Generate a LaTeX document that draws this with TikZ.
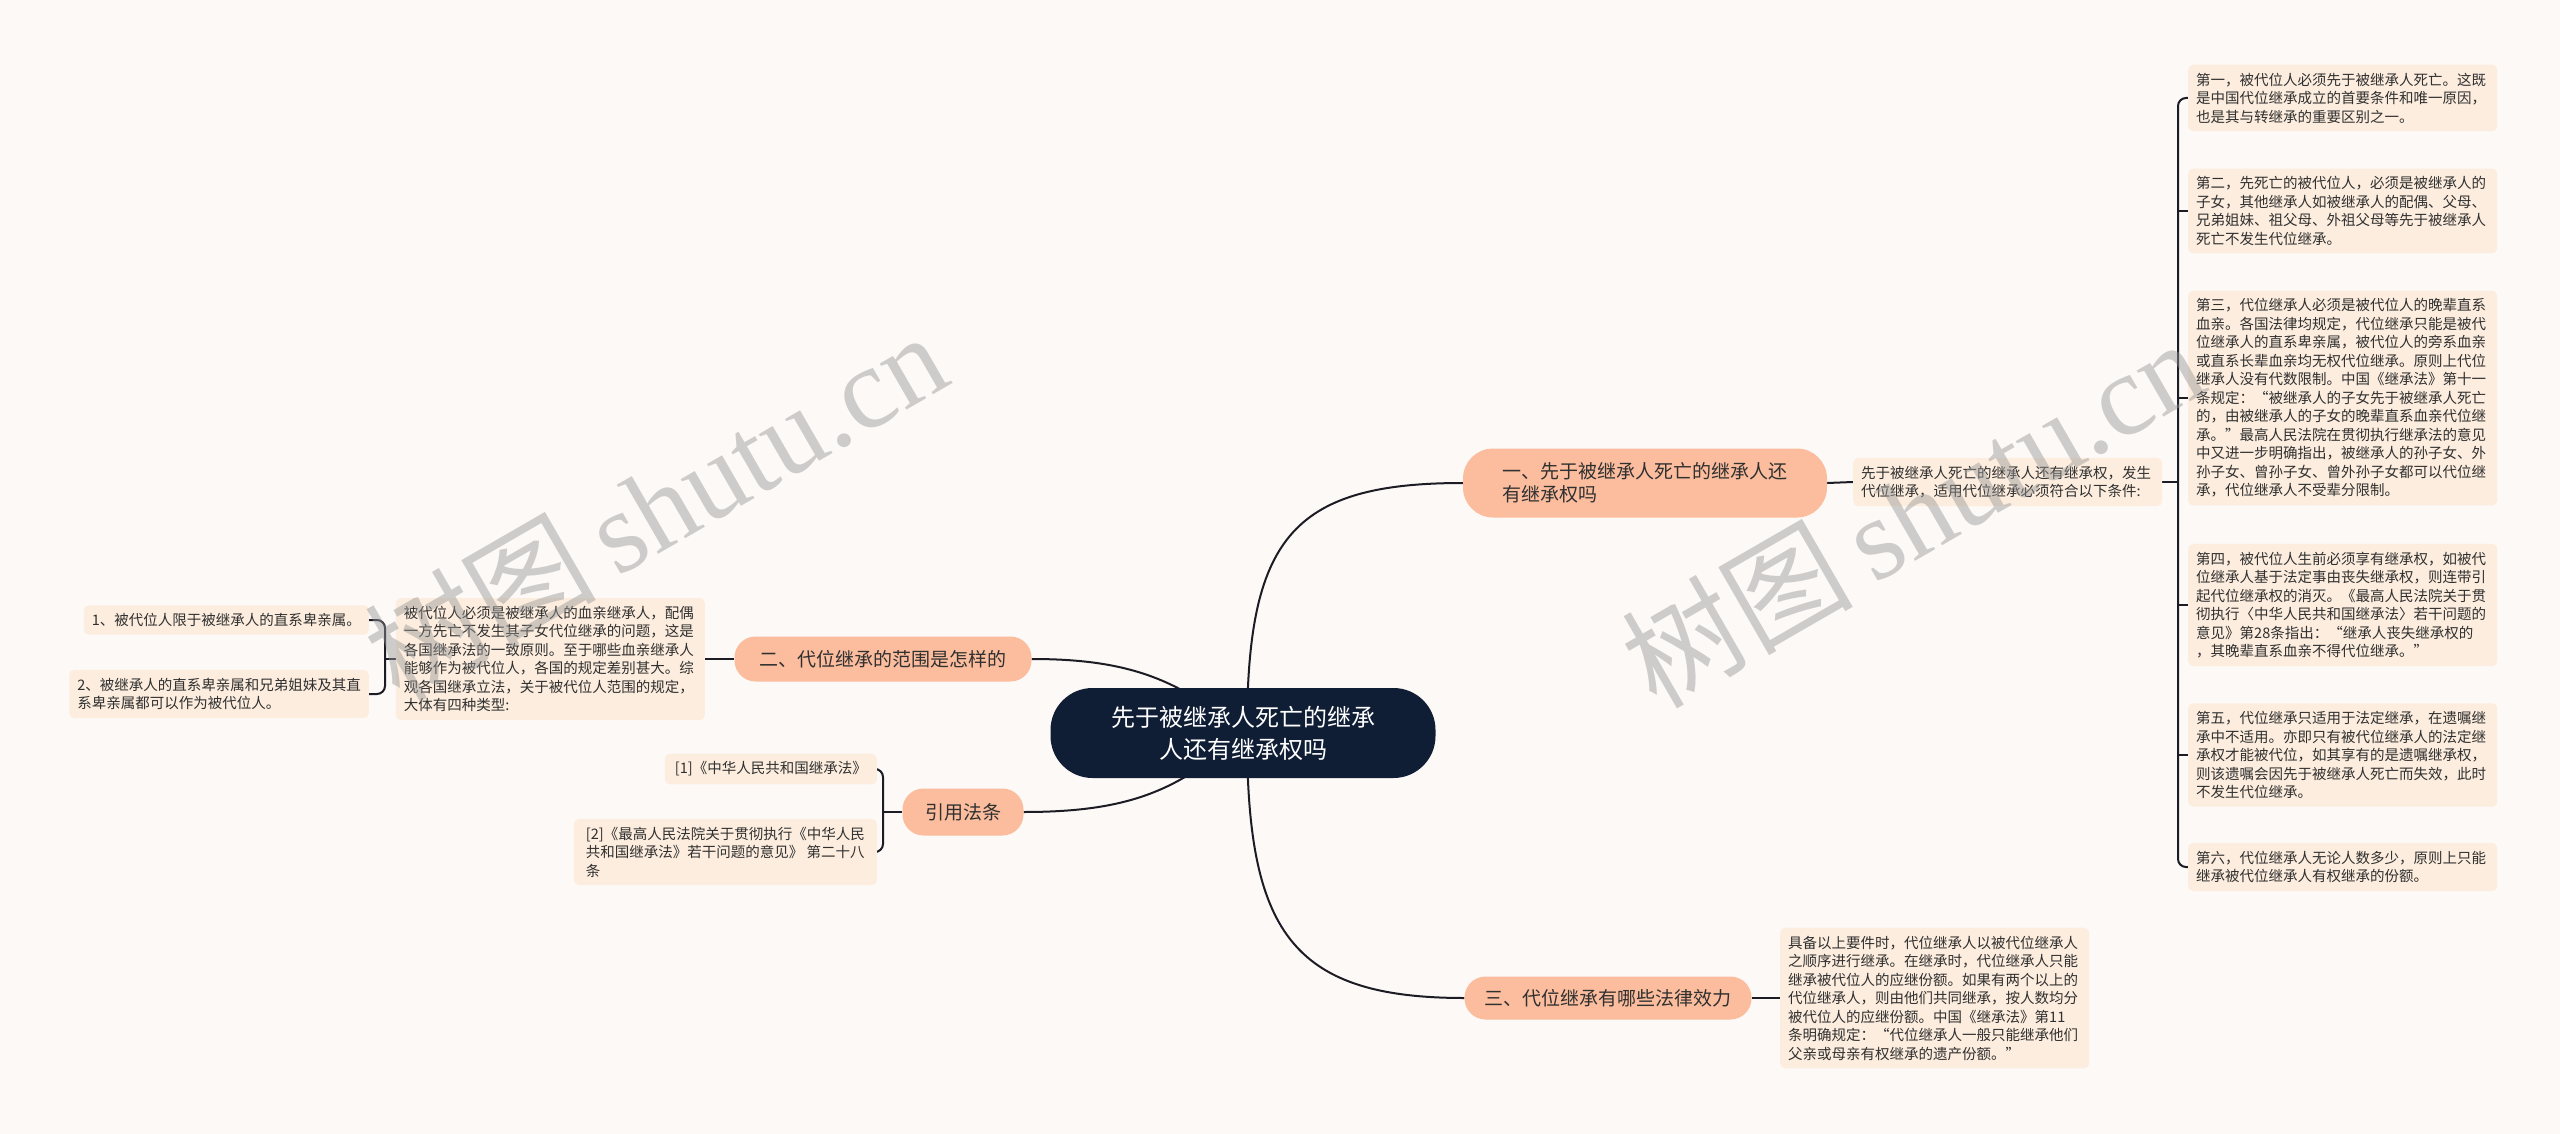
\documentclass[tikz,border=0pt]{standalone}
\usepackage{fontspec}
\setmainfont{Noto Sans CJK SC}
\newfontfamily\wmlatin{Liberation Serif}
\definecolor{bgcol}{RGB}{253,249,247}
\definecolor{leafcol}{RGB}{252,237,222}
\definecolor{brcol}{RGB}{251,189,157}
\definecolor{cencol}{RGB}{15,30,53}
\definecolor{linecol}{RGB}{28,28,36}
\definecolor{txtcol}{RGB}{48,48,48}
\definecolor{wmcol}{RGB}{150,150,150}
\pgfdeclarelayer{back}
\pgfdeclarelayer{edges}
\pgfdeclarelayer{front}
\pgfsetlayers{back,edges,main,front}
\tikzset{
  leafbox/.style={fill=leafcol, rounded corners=5pt, inner xsep=8pt, inner ysep=8pt,
    font=\fontsize{14.5}{18.5}\selectfont, text=txtcol, align=left},
  wideleaf/.style={leafbox, text width=293pt},
  branchbox/.style={fill=brcol, rounded corners=21pt, inner sep=0pt,
    font=\fontsize{19}{23.5}\selectfont, text=txtcol, align=left},
  edge/.style={draw=linecol, line width=2pt},
  wmark/.style={text=wmcol, opacity=0.45, rotate=30, inner sep=0pt}
}
\begin{document}
\begin{tikzpicture}[x=1pt,y=-1pt]
\begin{pgfonlayer}{back}
\fill[bgcol] (0,0) rectangle (2560,1134);
\end{pgfonlayer}
\useasboundingbox (0,0) rectangle (2560,1134);

% centre
\node[fill=cencol, rounded corners=42pt, minimum width=385pt, minimum height=90pt,
  text=white, align=center, font=\fontsize{24}{32}\selectfont] (c) at (1243,733)
  {先于被继承人死亡的继承\\人还有继承权吗};
\coordinate (cs) at (1247,733);

% branches
\node[branchbox, minimum width=364pt, minimum height=69pt, rounded corners=30pt] (b1) at (1645,483)
  {一、先于被继承人死亡的继承人还\\有继承权吗};
\node[branchbox, minimum width=297pt, minimum height=45pt] (b2) at (883,659)
  {二、代位继承的范围是怎样的};
\node[branchbox, minimum width=121pt, minimum height=47pt] (b4) at (963,812)
  {引用法条};
\node[branchbox, minimum width=287pt, minimum height=43pt] (b3) at (1608,998)
  {三、代位继承有哪些法律效力};

% branch 1 leaves
\node[wideleaf, anchor=west] (l1) at (1853,482)
  {先于被继承人死亡的继承人还有继承权，发生\\代位继承，适用代位继承必须符合以下条件:};
\coordinate (rb) at (2178,0);
\node[wideleaf, anchor=west] (r1) at (2188,98)
  {第一，被代位人必须先于被继承人死亡。这既\\是中国代位继承成立的首要条件和唯一原因，\\也是其与转继承的重要区别之一。};
\node[wideleaf, anchor=west] (r2) at (2188,211)
  {第二，先死亡的被代位人，必须是被继承人的\\子女，其他继承人如被继承人的配偶、父母、\\兄弟姐妹、祖父母、外祖父母等先于被继承人\\死亡不发生代位继承。};
\node[wideleaf, anchor=west] (r3) at (2188,398)
  {第三，代位继承人必须是被代位人的晚辈直系\\血亲。各国法律均规定，代位继承只能是被代\\位继承人的直系卑亲属，被代位人的旁系血亲\\或直系长辈血亲均无权代位继承。原则上代位\\继承人没有代数限制。中国《继承法》第十一\\条规定：“被继承人的子女先于被继承人死亡\\的，由被继承人的子女的晚辈直系血亲代位继\\承。”最高人民法院在贯彻执行继承法的意见\\中又进一步明确指出，被继承人的孙子女、外\\孙子女、曾孙子女、曾外孙子女都可以代位继\\承，代位继承人不受辈分限制。};
\node[wideleaf, anchor=west] (r4) at (2188,605)
  {第四，被代位人生前必须享有继承权，如被代\\位继承人基于法定事由丧失继承权，则连带引\\起代位继承权的消灭。《最高人民法院关于贯\\彻执行〈中华人民共和国继承法〉若干问题的\\意见》第28条指出：“继承人丧失继承权的\\，其晚辈直系血亲不得代位继承。”};
\node[wideleaf, anchor=west] (r5) at (2188,755)
  {第五，代位继承只适用于法定继承，在遗嘱继\\承中不适用。亦即只有被代位继承人的法定继\\承权才能被代位，如其享有的是遗嘱继承权，\\则该遗嘱会因先于被继承人死亡而失效，此时\\不发生代位继承。};
\node[wideleaf, anchor=west] (r6) at (2188,867)
  {第六，代位继承人无论人数多少，原则上只能\\继承被代位继承人有权继承的份额。};

% branch 3 leaf
\node[wideleaf, anchor=west] (l3) at (1780,998)
  {具备以上要件时，代位继承人以被代位继承人\\之顺序进行继承。在继承时，代位继承人只能\\继承被代位人的应继份额。如果有两个以上的\\代位继承人，则由他们共同继承，按人数均分\\被代位人的应继份额。中国《继承法》第11\\条明确规定：“代位继承人一般只能继承他们\\父亲或母亲有权继承的遗产份额。”};

% branch 2 leaves
\node[wideleaf, anchor=east] (l2) at (705,659)
  {被代位人必须是被继承人的血亲继承人，配偶\\一方先亡不发生其子女代位继承的问题，这是\\各国继承法的一致原则。至于哪些血亲继承人\\能够作为被代位人，各国的规定差别甚大。综\\观各国继承立法，关于被代位人范围的规定，\\大体有四种类型:};
\coordinate (lb) at (385,0);
\node[leafbox, anchor=east] (k1) at (369,620)
  {1、被代位人限于被继承人的直系卑亲属。};
\node[leafbox, anchor=east] (k2) at (369,694)
  {2、被继承人的直系卑亲属和兄弟姐妹及其直\\系卑亲属都可以作为被代位人。};

% citations
\coordinate (cb) at (883,0);
\node[leafbox, anchor=east, inner xsep=10pt] (q1) at (877,769)
  {[1]《中华人民共和国继承法》};
\node[leafbox, anchor=east, inner xsep=12pt] (q2) at (877,852)
  {[2]《最高人民法院关于贯彻执行《中华人民\\共和国继承法》若干问题的意见》 第二十八\\条};

% connectors
\begin{pgfonlayer}{edges}
\draw[edge] (cs) .. controls (1247,540) and (1290,483) .. (b1.west);
\draw[edge] (cs) .. controls (1247,930) and (1290,998) .. (b3.west);
\draw[edge] (c.center) .. controls (1180,680) and (1130,659) .. (b2.east);
\draw[edge] (c.center) .. controls (1180,790) and (1130,812) .. (b4.east);
\draw[edge] (b1.east) -- (l1.west);
\draw[edge] (l1.east) -- (l1.east -| rb);
\draw[edge, rounded corners=8pt] (r1.west) -- (r1.west -| rb) -- (r6.west -| rb) -- (r6.west);
\foreach \n in {r2,r3,r4,r5} \draw[edge] (\n.west -| rb) -- (\n.west);
\draw[edge] (b3.east) -- (l3.west);
\draw[edge] (b2.west) -- (l2.east);
\draw[edge] (l2.west) -- (l2.west -| lb);
\draw[edge, rounded corners=8pt] (k1.east) -- (k1.east -| lb) -- (k2.east -| lb) -- (k2.east);
\draw[edge] (b4.west) -- (b4.west -| cb);
\draw[edge, rounded corners=8pt] (q1.east) -- (q1.east -| cb) -- (q2.east -| cb) -- (q2.east);
\end{pgfonlayer}

% watermarks
\begin{pgfonlayer}{front}
\node[wmark, font=\fontsize{116}{120}\selectfont] (w1) at (655,505) {树图\,{\wmlatin shutu.cn}};
\node[wmark, font=\fontsize{116}{120}\selectfont] (w2) at (1912,512) {树图\,{\wmlatin shutu.cn}};
\end{pgfonlayer}
\end{tikzpicture}
\end{document}
